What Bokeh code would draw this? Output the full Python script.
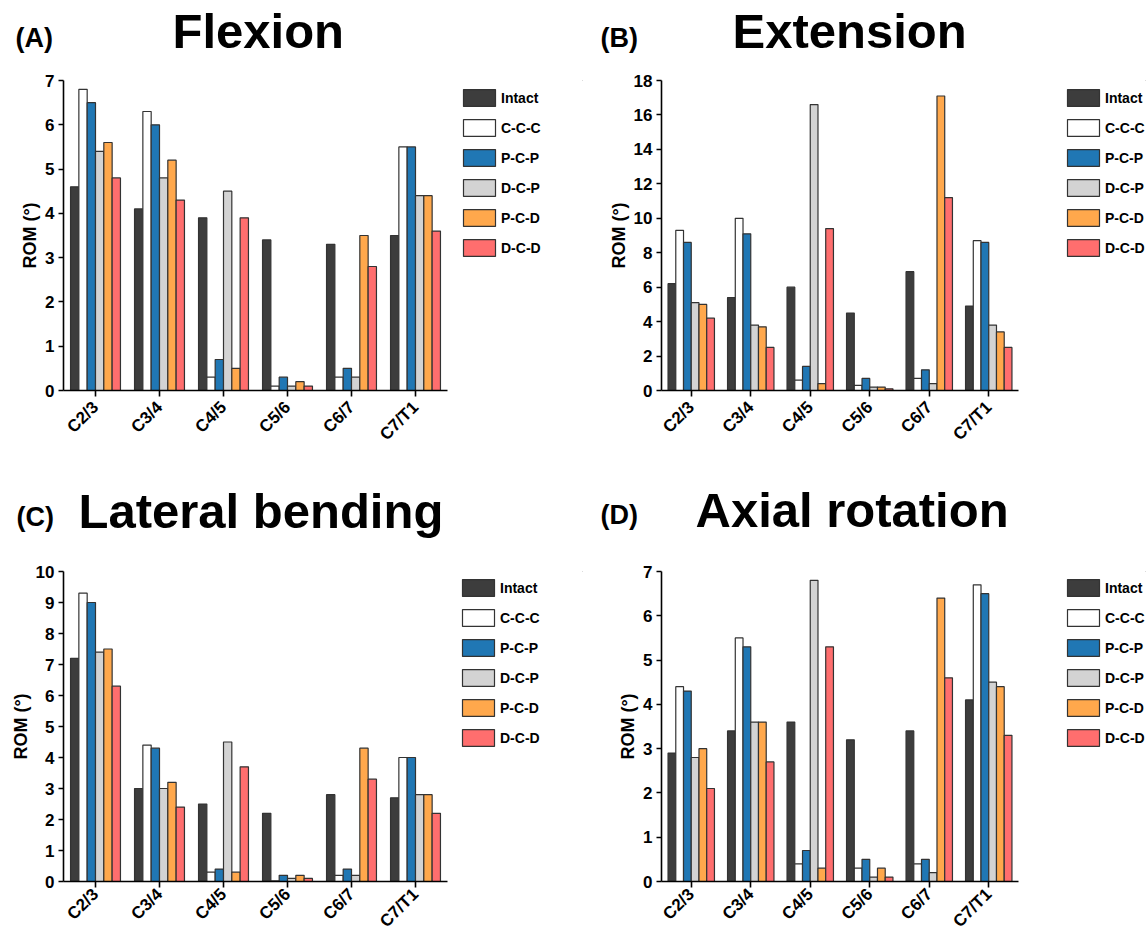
import math
from bokeh.plotting import figure
from bokeh.models import (Range1d, FactorRange, Legend, LegendItem, Label,
                          FixedTicker, ColumnDataSource)
from bokeh.transform import dodge
from bokeh.layouts import row, column
from bokeh.embed import file_html
from bokeh.resources import INLINE

levels = ["C2/3", "C3/4", "C4/5", "C5/6", "C6/7", "C7/T1"]
groups = ["Intact", "C-C-C", "P-C-P", "D-C-P", "P-C-D", "D-C-D"]
colors = ["#3d3d3d", "#ffffff", "#2077b4", "#d3d3d3", "#ffa84c", "#ff6e6e"]

# (A) Flexion
flex_intact = [4.6, 4.1, 3.9, 3.4, 3.3, 3.5]
flex_ccc = [6.8, 6.3, 0.3, 0.1, 0.3, 5.5]
flex_pcp = [6.5, 6.0, 0.7, 0.3, 0.5, 5.5]
flex_dcp = [5.4, 4.8, 4.5, 0.1, 0.3, 4.4]
flex_pcd = [5.6, 5.2, 0.5, 0.2, 3.5, 4.4]
flex_dcd = [4.8, 4.3, 3.9, 0.1, 2.8, 3.6]

# (B) Extension
ext_intact = [6.2, 5.4, 6.0, 4.5, 6.9, 4.9]
ext_ccc = [9.3, 10.0, 0.6, 0.3, 0.7, 8.7]
ext_pcp = [8.6, 9.1, 1.4, 0.7, 1.2, 8.6]
ext_dcp = [5.1, 3.8, 16.6, 0.2, 0.4, 3.8]
ext_pcd = [5.0, 3.7, 0.4, 0.2, 17.1, 3.4]
ext_dcd = [4.2, 2.5, 9.4, 0.1, 11.2, 2.5]

# (C) Lateral bending
lat_intact = [7.2, 3.0, 2.5, 2.2, 2.8, 2.7]
lat_ccc = [9.3, 4.4, 0.3, 0.02, 0.2, 4.0]
lat_pcp = [9.0, 4.3, 0.4, 0.2, 0.4, 4.0]
lat_dcp = [7.4, 3.0, 4.5, 0.1, 0.2, 2.8]
lat_pcd = [7.5, 3.2, 0.3, 0.2, 4.3, 2.8]
lat_dcd = [6.3, 2.4, 3.7, 0.1, 3.3, 2.2]

# (D) Axial rotation
axi_intact = [2.9, 3.4, 3.6, 3.2, 3.4, 4.1]
axi_ccc = [4.4, 5.5, 0.4, 0.3, 0.4, 6.7]
axi_pcp = [4.3, 5.3, 0.7, 0.5, 0.5, 6.5]
axi_dcp = [2.8, 3.6, 6.8, 0.1, 0.2, 4.5]
axi_pcd = [3.0, 3.6, 0.3, 0.3, 6.4, 4.4]
axi_dcd = [2.1, 2.7, 5.3, 0.1, 4.6, 3.3]

FONT = "Liberation Sans"
BAR_W = 0.13
LINE = "#333333"


def blank_fig(width, height, bl=0, bt=0):
    f = figure(width=width, height=height, x_axis_type=None, y_axis_type=None,
               x_range=Range1d(0, 1), y_range=Range1d(0, 1), min_border=0,
               min_border_left=bl, min_border_top=bt,
               output_backend="svg", toolbar_location=None)
    f.outline_line_color = None
    f.background_fill_color = "white"
    f.border_fill_color = "white"
    return f


def make_header(tag, title, width, height, tag_xy, title_xy):
    h = blank_fig(width, height)
    h.add_layout(Label(x=tag_xy[0], y=tag_xy[1], x_units="screen", y_units="screen",
                       text=tag, text_font=FONT, text_font_style="bold",
                       text_font_size="27px", text_color="black",
                       text_baseline="alphabetic"))
    h.add_layout(Label(x=title_xy[0], y=title_xy[1], x_units="screen", y_units="screen",
                       text=title, text_font=FONT, text_font_style="bold",
                       text_font_size="49px", text_color="black",
                       text_baseline="alphabetic"))
    return h


def make_legend_fig(width, height, left, top, margin):
    f = blank_fig(width, height, bl=left, bt=top)
    # one zero-size point per series far outside the visible range, so the legend gets glyphs
    src = ColumnDataSource(dict(x=[50.0], top=[50.0], bottom=[50.0]))
    rends = [f.vbar(x="x", top="top", bottom="bottom", width=0.0, source=src,
                    fill_color=c, line_color=LINE, line_width=1.2) for c in colors]
    items = [LegendItem(label=g, renderers=[r]) for g, r in zip(groups, rends)]
    leg = Legend(items=items, location="top_left", glyph_width=40, glyph_height=21,
                 label_height=21, spacing=9, label_standoff=2, padding=0,
                 margin=margin, border_line_color=None, background_fill_alpha=0,
                 label_text_font=FONT, label_text_font_style="bold",
                 label_text_font_size="14px", label_text_color="black")
    f.add_layout(leg)
    return f


def make_panel(series, ymax, ystep, fw, fh, bl, br, bt, bb, standoff):
    p = figure(frame_width=fw, frame_height=fh,
               x_range=FactorRange(*levels), y_range=Range1d(0, ymax),
               min_border_left=bl, min_border_right=br,
               min_border_top=bt, min_border_bottom=bb,
               output_backend="svg", toolbar_location=None)
    p.outline_line_color = None
    p.xgrid.grid_line_color = None
    p.ygrid.grid_line_color = None
    p.background_fill_color = "white"
    p.border_fill_color = "white"

    data = {"cat": levels}
    for g, s in zip(groups, series):
        data[g] = s
    src = ColumnDataSource(data)

    for i, g in enumerate(groups):
        p.vbar(x=dodge("cat", (i - 2.5) * BAR_W, range=p.x_range), top=g,
               width=BAR_W, source=src, fill_color=colors[i],
               line_color=LINE, line_width=1.2)

    for ax in (p.xaxis[0], p.yaxis[0]):
        ax.axis_line_color = "black"
        ax.axis_line_width = 1.6
        ax.major_tick_line_color = "black"
        ax.major_tick_line_width = 1.6
        ax.major_tick_in = 0
        ax.minor_tick_line_color = None
        ax.major_label_text_font = FONT
        ax.major_label_text_font_style = "bold"
        ax.major_label_text_color = "black"
    p.xaxis.major_tick_out = 6
    p.xaxis.major_label_orientation = math.pi / 4
    p.xaxis.major_label_text_font_size = "17px"
    p.xaxis.major_label_standoff = standoff
    p.yaxis.major_tick_out = 5
    p.yaxis.major_label_text_font_size = "17px"
    p.yaxis.major_label_standoff = 4
    p.yaxis.ticker = FixedTicker(ticks=list(range(0, ymax + 1, ystep)))
    p.yaxis.axis_label = "ROM (°)"
    p.yaxis.axis_label_text_font = FONT
    p.yaxis.axis_label_text_font_style = "bold"
    p.yaxis.axis_label_text_font_size = "18px"
    p.yaxis.axis_label_text_color = "black"
    p.yaxis.axis_label_standoff = 2
    return p


hA = make_header("(A)", "Flexion", 583, 56, (15, 19), (172, 26))
hB = make_header("(B)", "Extension", 563, 56, (17, 19), (149, 26))
hC = make_header("(C)", "Lateral bending", 583, 72, (16, 30), (78, 36))
hD = make_header("(D)", "Axial rotation", 563, 72, (17, 32), (112, 37))

pA = make_panel([flex_intact, flex_ccc, flex_pcp, flex_dcp, flex_pcd, flex_dcd],
                7, 1, 384, 310, 63, 5, 24, 84, 8)
pB = make_panel([ext_intact, ext_ccc, ext_pcp, ext_dcp, ext_pcd, ext_dcd],
                18, 2, 357, 310, 78, 5, 24, 84, 8)
pC = make_panel([lat_intact, lat_ccc, lat_pcp, lat_dcp, lat_pcd, lat_dcd],
                10, 1, 384, 310, 63, 5, 25, 59, 4)
pD = make_panel([axi_intact, axi_ccc, axi_pcp, axi_dcp, axi_pcd, axi_dcd],
                7, 1, 357, 310, 78, 5, 25, 59, 4)

lA = make_legend_fig(131, 418, 0, 24, 7)
lB = make_legend_fig(123, 418, 33, 24, 7)
lC = make_legend_fig(131, 394, 0, 25, 6)
lD = make_legend_fig(123, 394, 34, 25, 6)

layout = column(row(hA, hB, spacing=0), row(pA, lA, pB, lB, spacing=0),
                row(hC, hD, spacing=0), row(pC, lC, pD, lD, spacing=0), spacing=0)
open("out.html", "w").write(file_html(layout, INLINE))
